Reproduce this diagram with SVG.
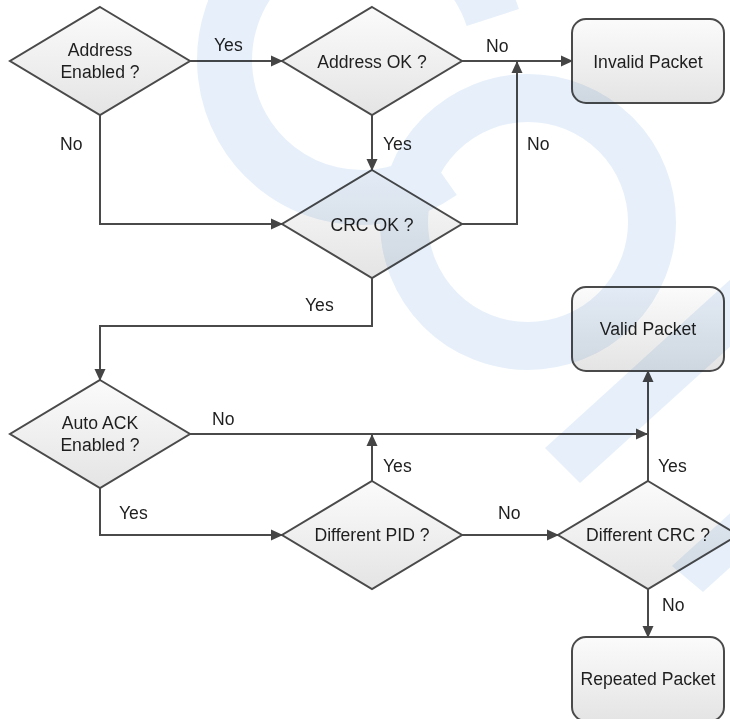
<svg xmlns="http://www.w3.org/2000/svg" width="730" height="719" viewBox="0 0 730 719">
  <defs>
    <linearGradient id="gFill" x1="0" y1="0" x2="0" y2="1">
      <stop offset="0" stop-color="#fbfbfb"/>
      <stop offset="1" stop-color="#e4e4e4"/>
    </linearGradient>
    <marker id="arrow" viewBox="0 0 12 12" refX="11" refY="6" markerWidth="12" markerHeight="12" markerUnits="userSpaceOnUse" orient="auto">
      <path d="M0,0.5 L12,6 L0,11.5 Z" fill="#454545"/>
    </marker>
    <style>
      .shape { fill: url(#gFill); stroke: #4a4a4a; stroke-width: 2; }
      .conn { fill: none; stroke: #4a4a4a; stroke-width: 2; marker-end: url(#arrow); }
      .t { font-family: "Liberation Sans", Arial, sans-serif; font-size: 17.6px; fill: #1e1e1e; }
      .c { text-anchor: middle; }
      .wm { fill: #e7f0fa; stroke: none; }
      .wms { fill: none; stroke: #e7f0fa; }
    </style>
  </defs>
  <rect width="730" height="719" fill="#ffffff"/>

  <g id="nodes">
    <g id="n-address-enabled">
      <polygon class="shape" points="100,7 190,61 100,115 10,61"/>
      <text class="t c" x="100" y="56">Address</text>
      <text class="t c" x="100" y="78">Enabled ?</text>
    </g>
    <g id="n-address-ok">
      <polygon class="shape" points="372,7 462,61 372,115 282,61"/>
      <text class="t c" x="372" y="67.5">Address OK ?</text>
    </g>
    <g id="n-invalid">
      <rect class="shape" x="572" y="19" width="152" height="84" rx="14"/>
      <text class="t c" x="648" y="67.5">Invalid Packet</text>
    </g>
    <g id="n-crc-ok">
      <polygon class="shape" points="372,170 462,224 372,278 282,224"/>
      <text class="t c" x="372" y="230.5">CRC OK ?</text>
    </g>
    <g id="n-valid">
      <rect class="shape" x="572" y="287" width="152" height="84" rx="14"/>
      <text class="t c" x="648" y="335">Valid Packet</text>
    </g>
    <g id="n-auto-ack">
      <polygon class="shape" points="100,380 190,434 100,488 10,434"/>
      <text class="t c" x="100" y="429">Auto ACK</text>
      <text class="t c" x="100" y="451">Enabled ?</text>
    </g>
    <g id="n-diff-pid">
      <polygon class="shape" points="372,481 462,535 372,589 282,535"/>
      <text class="t c" x="372" y="541">Different PID ?</text>
    </g>
    <g id="n-diff-crc">
      <polygon class="shape" points="648,481 738,535 648,589 558,535"/>
      <text class="t c" x="648" y="541">Different CRC ?</text>
    </g>
    <g id="n-repeated">
      <rect class="shape" x="572" y="637" width="152" height="84" rx="14"/>
      <text class="t c" x="648" y="685">Repeated Packet</text>
    </g>
  </g>

  <g id="connectors">
    <path class="conn" d="M190,61 H282"/>
    <path class="conn" d="M100,115 V224 H282"/>
    <path class="conn" d="M372,115 V170"/>
    <path class="conn" d="M462,61 H572"/>
    <path class="conn" d="M462,224 H517 V62"/>
    <path class="conn" d="M372,278 V326 H100 V380"/>
    <path class="conn" d="M190,434 H647"/>
    <path class="conn" d="M372,481 V435"/>
    <path class="conn" d="M100,488 V535 H282"/>
    <path class="conn" d="M462,535 H558"/>
    <path class="conn" d="M648,481 V371"/>
    <path class="conn" d="M648,589 V637"/>
  </g>

  <g id="labels">
    <text class="t" x="214" y="51">Yes</text>
    <text class="t" x="60" y="150">No</text>
    <text class="t" x="383" y="150">Yes</text>
    <text class="t" x="486" y="52">No</text>
    <text class="t" x="527" y="150">No</text>
    <text class="t" x="305" y="311">Yes</text>
    <text class="t" x="212" y="425">No</text>
    <text class="t" x="383" y="472">Yes</text>
    <text class="t" x="658" y="472">Yes</text>
    <text class="t" x="119" y="519">Yes</text>
    <text class="t" x="498" y="519">No</text>
    <text class="t" x="662" y="611">No</text>
  </g>

  <g id="watermark" style="mix-blend-mode: multiply">
    <path class="wms" stroke-width="55" d="M492.8,17.5 A137.5,137.5 0 1 0 441,172.6"/>
    <circle class="wms" stroke-width="48" cx="528" cy="222" r="124"/>
    <polygon class="wm" points="545,448 580,483 800,283 800,216"/>
    <polygon class="wm" points="672,566 703,592 780,522 749,496"/>
  </g>
</svg>
